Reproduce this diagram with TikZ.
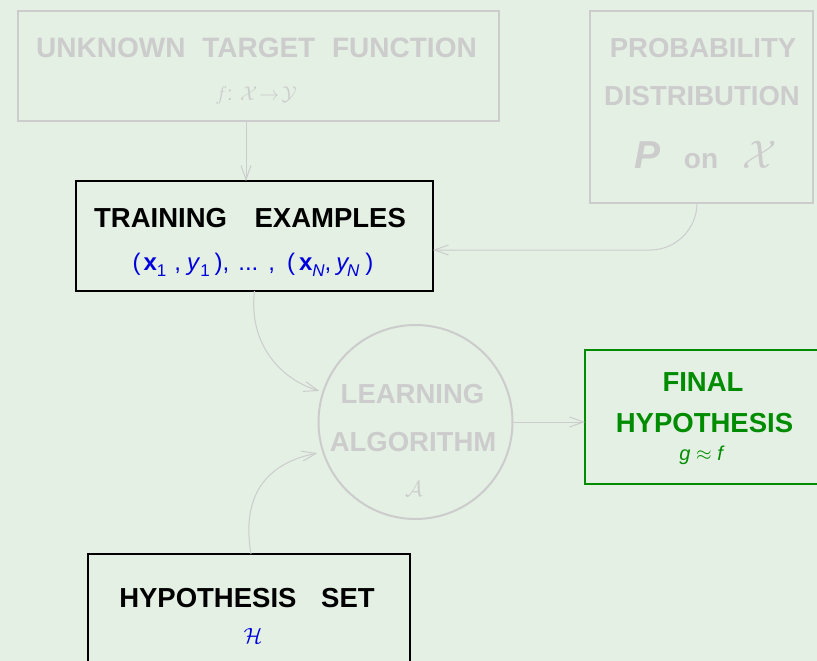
\RequirePackage{fix-cm}
\documentclass[tikz,border=0pt]{standalone}
\usepackage{fontspec}
\setmainfont{Liberation Sans}
\usetikzlibrary{arrows.meta}
\definecolor{bg}{RGB}{228,240,228}
\definecolor{faint}{RGB}{204,204,204}
\definecolor{tblue}{RGB}{0,0,220}
\definecolor{tgreen}{RGB}{0,140,0}
\newcommand\lowsub[1]{\raisebox{-6pt}{\fontsize{17}{17}\selectfont #1}}
\tikzset{
  box/.style={draw, rectangle, inner sep=0pt, outer sep=0pt, line width=2pt},
  lbl/.style={anchor=base, inner sep=0pt, font=\fontsize{27.5}{30}\selectfont\bfseries},
  conn/.style={draw=faint, line width=1pt, -{Straight Barb[length=14pt,width=10pt]}},
}
\begin{document}
\begin{tikzpicture}[x=1pt,y=-1pt]
\fill[bg] (0,0) rectangle (817,661);
\useasboundingbox (0,0) rectangle (817,661);
\clip (0,0) rectangle (817,661);

% boxes
\node[box, draw=faint, minimum width=481pt, minimum height=110pt] (utf) at (258.5,66) {};
\node[box, draw=faint, minimum width=223pt, minimum height=192pt] (pd) at (701.5,107) {};
\node[box, draw=black, minimum width=357pt, minimum height=110pt] (te) at (254.5,236) {};
\node[box, draw=tgreen, minimum width=240pt, minimum height=134pt] (fh) at (705,417) {};
\node[box, draw=black, minimum width=322pt, minimum height=116pt] (hs) at (249,612) {};
\node[draw=faint, circle, line width=2pt, inner sep=0pt, outer sep=0pt, minimum size=194pt] (la) at (415.5,422) {};

% texts
\node[lbl, text=faint, font=\fontsize{28}{30}\selectfont\bfseries] (utf1) at (256.5,58) {UNKNOWN\hspace{0.6em}TARGET\hspace{0.6em}FUNCTION};
\node[anchor=base, inner sep=0pt, text=faint, font=\fontsize{20}{20}\selectfont] (utf2) at (256,100) {$f$: $\mathcal{X}\!\to\!\mathcal{Y}$};

\node[lbl, text=faint] (pd1) at (703,58) {PROBABILITY};
\node[lbl, text=faint] (pd2) at (702,106) {DISTRIBUTION};
\node[anchor=base, inner sep=0pt, text=faint, font=\fontsize{39}{40}\selectfont\bfseries\itshape] (pd3) at (648,168) {P};
\node[anchor=base, inner sep=0pt, text=faint, font=\fontsize{28}{30}\selectfont\bfseries] (pd4) at (701,168) {on};
\node[anchor=base, inner sep=0pt, text=faint, font=\fontsize{40}{40}\selectfont] (pd5) at (760,168) {$\mathcal{X}$};

\node[lbl] (te1) at (250,227) {TRAINING\hspace{1em}EXAMPLES};
\node[anchor=base, inner sep=0pt, text=tblue, font=\fontsize{24}{26}\selectfont] (te2) at (253,270)
  {(\kern3pt\textbf{x}\lowsub{1}\kern8pt,\kern6pt\textit{y}\lowsub{1}\kern5pt),\kern9pt...\kern10pt,\kern12pt(\kern4pt\textbf{x}\lowsub{\textit{N}},\kern5pt\textit{y}\kern-0.1em\lowsub{\textit{N}}\kern6pt)};

\node[lbl, text=faint] (la1) at (412.5,403) {LEARNING};
\node[lbl, text=faint] (la2) at (413,451) {ALGORITHM};
\node[anchor=base, inner sep=0pt, text=faint, font=\fontsize{22}{22}\selectfont] (la3) at (414,496) {$\mathcal{A}$};

\node[lbl, text=tgreen] (fh1) at (703,391) {FINAL};
\node[lbl, text=tgreen] (fh2) at (704.5,432) {HYPOTHESIS};
\node[anchor=base, inner sep=0pt, text=tgreen, font=\fontsize{20}{20}\selectfont] (fh3) at (702,460) {\textit{g} $\approx$ \textit{f}};

\node[lbl] (hs1) at (247,607) {HYPOTHESIS\hspace{0.9em}SET};
\node[anchor=base, inner sep=0pt, text=tblue, font=\fontsize{22}{22}\selectfont] (hs2) at (253,643) {$\mathcal{H}$};

% connectors
\draw[conn] ([xshift=-8.5pt]te.north |- utf.south) -- ([xshift=-8.5pt]te.north);
\draw[conn] ([xshift=-4.5pt]pd.south) .. controls (697,229) and (676,250) .. (650,250) -- ([yshift=-14pt]te.east);
\draw[conn, shorten >=4pt] (te.south) .. controls (248,345) and (282,380) .. (la.162);
\draw[conn, shorten >=6pt] ([xshift=2pt]hs.north) .. controls (240,490) and (272,462) .. (la.198);
\draw[conn] (la.east) -- (la.east -| fh.west);
\end{tikzpicture}
\end{document}
